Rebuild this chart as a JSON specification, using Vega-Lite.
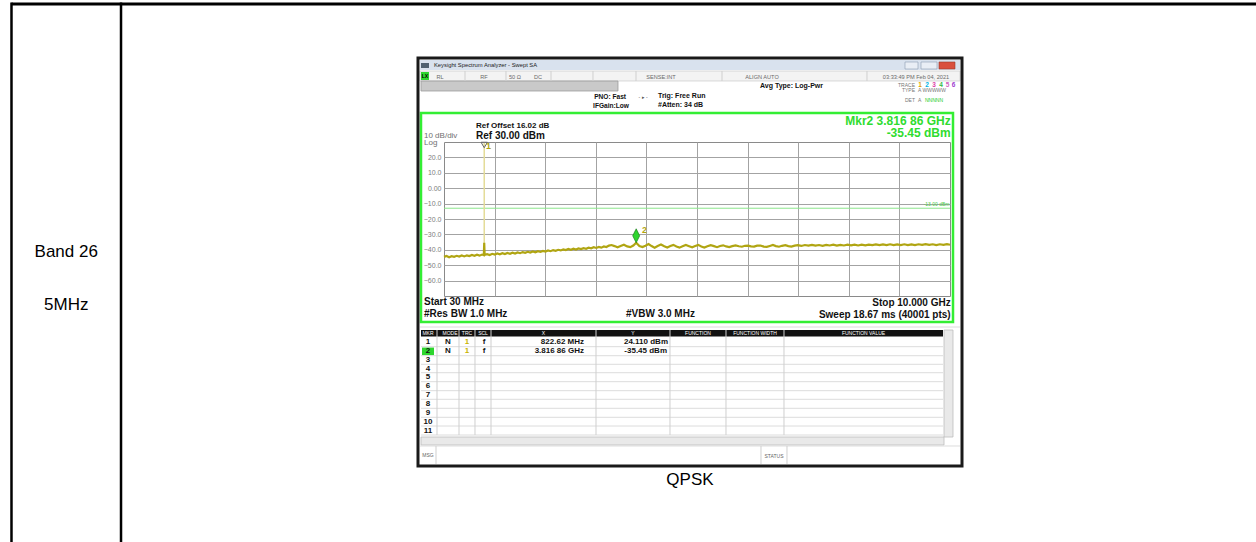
{
  "$schema": "https://vega.github.io/schema/vega-lite/v6.json",
  "width": 506,
  "height": 154,
  "autosize": {"type": "none"},
  "padding": {"left": 444, "top": 142, "right": 306, "bottom": 246},
  "background": "#ffffff",
  "config": {"view": {"stroke": "#8a8a8a", "strokeWidth": 1}, "font": "Liberation Sans", "text": {"font": "Liberation Sans"}},
  "encoding": {
    "x": {"field": "f", "type": "quantitative", "scale": {"domain": [30, 10000], "nice": false, "zero": false},
      "axis": {"title": null, "values": [1027, 2024, 3021, 4018, 5015, 6012, 7009, 8006, 9003], "labels": false, "ticks": false, "domain": false, "grid": true, "gridColor": "#a3a3a3", "gridWidth": 1}},
    "y": {"field": "d", "type": "quantitative", "scale": {"domain": [-70, 30], "nice": false, "zero": false},
      "axis": {"title": null, "values": [-60, -50, -40, -30, -20, -10, 0, 10, 20], "labelExpr": "datum.value == 0 ? '0.00' : format(datum.value, '.1f')", "ticks": false, "domain": false, "grid": true, "gridColor": "#a3a3a3", "gridWidth": 1, "labelFontSize": 7, "labelColor": "#7d7d7d", "labelPadding": 3, "labelFont": "Liberation Sans"}}
  },
  "datasets": {
    "pageH": [{"f": -8492, "f2": 16200, "d": 119.61}],
    "pageV": [{"f": -8492, "d": 120.6, "d2": -245}, {"f": -6334, "d": 120.6, "d2": -245}],
    "pageText": [{"f": -7413, "d": -41.23, "t": "Band 26"}, {"f": -7413, "d": -75.84, "t": "5MHz"}, {"f": 4877, "d": -189.48, "t": "QPSK"}],
    "frame": [{"f": -482.3, "f2": 10236.5, "d": 84.55, "d2": -180.39}],
    "titleBar": [{"f": -443, "f2": 10197, "d": 83.25, "d2": 76.75}],
    "statusBar": [{"f": -443, "f2": 10197, "d": 76.1, "d2": 69.61}],
    "grayBar": [{"f": -423.2, "f2": 3458.4, "d": 69.61, "d2": 63.12}],
    "winBtn": [{"f": 9113.4, "f2": 9369.5, "d": 81.95, "d2": 77.4}, {"f": 9428.6, "f2": 9743.9, "d": 81.95, "d2": 77.4}],
    "closeBtn": [{"f": 9783.3, "f2": 10098.5, "d": 81.95, "d2": 77.4}],
    "titleIcon": [{"f": -423.2, "f2": -265.6, "d": 81.3, "d2": 78.05}],
    "greenFill": [{"f": -423.2, "f2": -265.6, "d": 75.45, "d2": 70.26}, {"f": -403.5, "f2": -167.0, "d": -103.44, "d2": -108.44}],
    "panel": [{"f": -423.2, "f2": 10059.1, "d": 48.83, "d2": -86.88}],
    "tblHead": [{"f": -423.2, "f2": 9862.1, "d": -92.08, "d2": -96.3}],
    "scroll": [{"f": 9881.8, "f2": 10059.1, "d": -92.08, "d2": -161.56}, {"f": -423.2, "f2": 9881.8, "d": -161.56, "d2": -166.75}],
    "hLines": [
      {"f": -423.2, "f2": 9862.1, "d": -102.92}, {"f": -423.2, "f2": 9862.1, "d": -108.77}, {"f": -423.2, "f2": 9862.1, "d": -114.35},
      {"f": -423.2, "f2": 9862.1, "d": -119.81}, {"f": -423.2, "f2": 9862.1, "d": -125.65}, {"f": -423.2, "f2": 9862.1, "d": -131.49},
      {"f": -423.2, "f2": 9862.1, "d": -137.08}, {"f": -423.2, "f2": 9862.1, "d": -142.92}, {"f": -423.2, "f2": 9862.1, "d": -148.77},
      {"f": -423.2, "f2": 9862.1, "d": -154.42}, {"f": -423.2, "f2": 9862.1, "d": -160.26},
      {"f": -443, "f2": 10197, "d": -90.13}, {"f": -443, "f2": 10197, "d": -167.4}
    ],
    "vLines": [
      {"f": -107.9, "d": -92.08, "d2": -160.26}, {"f": 325.6, "d": -92.08, "d2": -160.26}, {"f": 640.8, "d": -92.08, "d2": -160.26},
      {"f": 956.1, "d": -92.08, "d2": -160.26}, {"f": 3025.0, "d": -92.08, "d2": -160.26}, {"f": 4483.0, "d": -92.08, "d2": -160.26},
      {"f": 5586.4, "d": -92.08, "d2": -160.26}, {"f": 6729.2, "d": -92.08, "d2": -160.26},
      {"f": -127.6, "d": -167.4, "d2": -179.09}, {"f": 6276.0, "d": -167.4, "d2": -179.09}, {"f": 6788.3, "d": -167.4, "d2": -179.09},
      {"f": 443.8, "d": 76.1, "d2": 69.61}, {"f": 1251.6, "d": 76.1, "d2": 69.61}, {"f": 2138.3, "d": 76.1, "d2": 69.61},
      {"f": 2965.8, "d": 76.1, "d2": 69.61}, {"f": 3813.1, "d": 76.1, "d2": 69.61}, {"f": 5507.6, "d": 76.1, "d2": 69.61}, {"f": 8364.6, "d": 76.1, "d2": 69.61}
    ],
    "titleText": [{"f": -167, "d": 80.0, "t": "Keysight Spectrum Analyzer - Swept SA"}],
    "statusText": [
      {"f": -48.8, "d": 72.21, "t": "RL"}, {"f": 818.1, "d": 72.21, "t": "RF"}, {"f": 1428.9, "d": 72.21, "t": "50 Ω"},
      {"f": 1882.1, "d": 72.21, "t": "DC"}, {"f": 4305.7, "d": 72.21, "t": "SENSE:INT"}, {"f": 6295.7, "d": 72.21, "t": "ALIGN AUTO"},
      {"f": 9330, "d": 72.21, "t": "03:33:49 PM Feb 04, 2021"}
    ],
    "lxText": [{"f": -344.4, "d": 72.86, "t": "LX"}],
    "infoRight": [{"f": 3616.1, "d": 59.22, "t": "PNO: Fast"}, {"f": 3675.2, "d": 53.38, "t": "IFGain:Low"}],
    "infoLeft": [{"f": 4246.6, "d": 60.06, "t": "Trig: Free Run"}, {"f": 4246.6, "d": 54.22, "t": "#Atten: 34 dB"}, {"f": 6256.3, "d": 66.17, "t": "Avg Type: Log-Pwr"}],
    "arrow": [{"f": 3951, "d": 59.22, "t": "- ▸ -"}],
    "traceLbl": [{"f": 9310.4, "d": 67.21, "t": "TRACE"}, {"f": 9310.4, "d": 63.57, "t": "TYPE"}, {"f": 9310.4, "d": 57.08, "t": "DET"}],
    "traceNums": [{"f": 9409, "d": 67.21, "t": "1"}, {"f": 9547, "d": 67.21, "t": "2"}, {"f": 9685, "d": 67.21, "t": "3"}, {"f": 9823, "d": 67.21, "t": "4"}, {"f": 9951, "d": 67.21, "t": "5"}, {"f": 10069, "d": 67.21, "t": "6"}],
    "typeDet": [{"f": 9369.5, "d": 63.57, "t": "A WWWWW"}, {"f": 9369.5, "d": 57.08, "t": "A"}],
    "detN": [{"f": 9507, "d": 57.08, "t": "NNNNN"}],
    "refSmall": [{"f": 660.5, "d": 40.58, "t": "Ref Offset 16.02 dB"}],
    "refBig": [{"f": 660.5, "d": 34.09, "t": "Ref 30.00 dBm"}],
    "grayLeft": [{"f": -364.1, "d": 33.7, "t": "10 dB/div"}, {"f": -364.1, "d": 29.5, "t": "Log"}],
    "mkrText": [{"f": 10013, "d": 43.64, "t": "Mkr2 3.816 86 GHz"}, {"f": 10013, "d": 35.65, "t": "-35.45 dBm"}],
    "botLeft": [{"f": -364.1, "d": -73.7, "t": "Start 30 MHz"}, {"f": -364.1, "d": -81.88, "t": "#Res BW 1.0 MHz"}, {"f": 3616.1, "d": -81.88, "t": "#VBW 3.0 MHz"}],
    "botRight": [{"f": 10013, "d": -74.35, "t": "Stop 10.000 GHz"}, {"f": 10013, "d": -82.34, "t": "Sweep  18.67 ms (40001 pts)"}],
    "hdr": [
      {"f": -285.3, "d": -94.16, "t": "MKR"}, {"f": 148.2, "d": -94.16, "t": "MODE"}, {"f": 483.2, "d": -94.16, "t": "TRC"},
      {"f": 798.4, "d": -94.16, "t": "SCL"}, {"f": 1990.5, "d": -94.16, "t": "X"}, {"f": 3754, "d": -94.16, "t": "Y"},
      {"f": 5034.7, "d": -94.16, "t": "FUNCTION"}, {"f": 6157.8, "d": -94.16, "t": "FUNCTION WIDTH"}, {"f": 8295.7, "d": -94.16, "t": "FUNCTION VALUE"}
    ],
    "rowsBlack": [
      {"f": -285.3, "d": -99.74, "t": "1"}, {"f": -285.3, "d": -105.84, "t": "2"}, {"f": -285.3, "d": -111.56, "t": "3"},
      {"f": -285.3, "d": -117.08, "t": "4"}, {"f": -285.3, "d": -122.73, "t": "5"}, {"f": -285.3, "d": -128.57, "t": "6"},
      {"f": -285.3, "d": -134.29, "t": "7"}, {"f": -285.3, "d": -140.0, "t": "8"}, {"f": -285.3, "d": -145.84, "t": "9"},
      {"f": -285.3, "d": -151.62, "t": "10"}, {"f": -285.3, "d": -157.34, "t": "11"},
      {"f": 108.8, "d": -99.74, "t": "N"}, {"f": 108.8, "d": -105.84, "t": "N"},
      {"f": 818.1, "d": -99.74, "t": "f"}, {"f": 818.1, "d": -105.84, "t": "f"}
    ],
    "rowsOlive": [{"f": 483.2, "d": -99.74, "t": "1"}, {"f": 483.2, "d": -105.84, "t": "1"}],
    "vals": [
      {"f": 2788.5, "d": -99.74, "t": "822.62 MHz"}, {"f": 4443.6, "d": -99.74, "t": "24.110 dBm"},
      {"f": 2788.5, "d": -105.84, "t": "3.816 86 GHz"}, {"f": 4423.9, "d": -105.84, "t": "-35.45 dBm"}
    ],
    "msgText": [{"f": -285.3, "d": -173.25, "t": "MSG"}, {"f": 6532, "d": -173.9, "t": "STATUS"}],
    "limitLine": [{"f": 30, "f2": 10000, "d": -13}],
    "limitText": [{"f": 9990, "d": -13, "t": "-13.00 dBm"}],
    "spike": [{"f": 822.62, "d": -36, "d2": 29.5}],
    "mk1": [{"f": 822.62, "d": 28.05}],
    "mk2": [{"f": 3816.86, "d": -35.45}],
    "mkLbl": [{"f": 857.6, "d": 27.1, "t": "1"}, {"f": 3931.4, "d": -26.82, "t": "2"}],
    "trace": [
      {"f": 30, "d": -44.6}, {"f": 80, "d": -44.0}, {"f": 130, "d": -44.8}, {"f": 180, "d": -44.1}, {"f": 230, "d": -44.6},
      {"f": 280, "d": -43.9}, {"f": 330, "d": -44.4}, {"f": 380, "d": -43.7}, {"f": 430, "d": -44.3}, {"f": 480, "d": -43.6},
      {"f": 530, "d": -44.1}, {"f": 580, "d": -43.4}, {"f": 630, "d": -43.9}, {"f": 680, "d": -43.2}, {"f": 730, "d": -43.8},
      {"f": 780, "d": -43.1}, {"f": 815, "d": -43.5}, {"f": 822.62, "d": -35.5}, {"f": 830, "d": -43.3}, {"f": 880, "d": -42.8},
      {"f": 930, "d": -43.4}, {"f": 980, "d": -42.6}, {"f": 1030, "d": -43.1}, {"f": 1080, "d": -42.4}, {"f": 1130, "d": -42.9},
      {"f": 1180, "d": -42.2}, {"f": 1230, "d": -42.8}, {"f": 1280, "d": -42.1}, {"f": 1330, "d": -42.6}, {"f": 1380, "d": -41.9},
      {"f": 1430, "d": -42.4}, {"f": 1480, "d": -41.7}, {"f": 1530, "d": -42.2}, {"f": 1580, "d": -41.5}, {"f": 1630, "d": -42.0},
      {"f": 1680, "d": -41.3}, {"f": 1730, "d": -41.8}, {"f": 1780, "d": -41.1}, {"f": 1830, "d": -41.6}, {"f": 1880, "d": -40.9},
      {"f": 1930, "d": -41.4}, {"f": 1980, "d": -40.7}, {"f": 2030, "d": -41.1}, {"f": 2080, "d": -40.4}, {"f": 2130, "d": -40.9},
      {"f": 2180, "d": -40.2}, {"f": 2230, "d": -40.7}, {"f": 2280, "d": -40.0}, {"f": 2330, "d": -40.4}, {"f": 2380, "d": -39.8},
      {"f": 2430, "d": -40.2}, {"f": 2480, "d": -39.5}, {"f": 2530, "d": -40.0}, {"f": 2580, "d": -39.3}, {"f": 2630, "d": -39.8},
      {"f": 2680, "d": -39.1}, {"f": 2730, "d": -39.5}, {"f": 2780, "d": -38.9}, {"f": 2830, "d": -39.3}, {"f": 2880, "d": -38.6},
      {"f": 2930, "d": -39.0}, {"f": 2980, "d": -38.3}, {"f": 3030, "d": -38.8}, {"f": 3080, "d": -38.1}, {"f": 3130, "d": -38.6},
      {"f": 3180, "d": -37.8}, {"f": 3230, "d": -38.2}, {"f": 3280, "d": -37.3}, {"f": 3330, "d": -36.9}, {"f": 3390, "d": -37.6},
      {"f": 3450, "d": -38.4}, {"f": 3510, "d": -37.5}, {"f": 3575, "d": -36.7}, {"f": 3640, "d": -37.8}, {"f": 3700, "d": -38.3},
      {"f": 3760, "d": -37.2}, {"f": 3816.86, "d": -35.45}, {"f": 3880, "d": -37.5}, {"f": 3940, "d": -38.2}, {"f": 4000, "d": -37.3},
      {"f": 4060, "d": -36.3}, {"f": 4120, "d": -37.6}, {"f": 4180, "d": -38.6}, {"f": 4240, "d": -37.5}, {"f": 4305, "d": -36.6},
      {"f": 4370, "d": -37.7}, {"f": 4430, "d": -38.5}, {"f": 4490, "d": -37.6}, {"f": 4550, "d": -36.8}, {"f": 4610, "d": -37.8},
      {"f": 4670, "d": -38.6}, {"f": 4730, "d": -37.7}, {"f": 4795, "d": -36.9}, {"f": 4860, "d": -37.7}, {"f": 4920, "d": -38.4},
      {"f": 4980, "d": -37.6}, {"f": 5040, "d": -36.8}, {"f": 5100, "d": -37.8}, {"f": 5160, "d": -38.5}, {"f": 5220, "d": -37.7},
      {"f": 5285, "d": -37.0}, {"f": 5350, "d": -37.6}, {"f": 5410, "d": -38.3}, {"f": 5470, "d": -37.5}, {"f": 5530, "d": -37.1},
      {"f": 5590, "d": -37.8}, {"f": 5650, "d": -38.2}, {"f": 5710, "d": -37.6}, {"f": 5775, "d": -37.2}, {"f": 5840, "d": -37.7},
      {"f": 5900, "d": -38.0}, {"f": 5960, "d": -37.4}, {"f": 6020, "d": -37.3}, {"f": 6080, "d": -37.8}, {"f": 6140, "d": -37.9},
      {"f": 6200, "d": -37.3}, {"f": 6265, "d": -37.2}, {"f": 6330, "d": -37.9}, {"f": 6390, "d": -38.1}, {"f": 6450, "d": -37.5},
      {"f": 6510, "d": -36.9}, {"f": 6570, "d": -37.6}, {"f": 6630, "d": -38.0}, {"f": 6690, "d": -37.4}, {"f": 6755, "d": -37.0},
      {"f": 6815, "d": -37.6}, {"f": 6875, "d": -37.9}, {"f": 6940, "d": -37.3}, {"f": 7000, "d": -37.0}, {"f": 7070, "d": -37.5},
      {"f": 7140, "d": -36.9}, {"f": 7210, "d": -37.3}, {"f": 7280, "d": -36.8}, {"f": 7350, "d": -37.3}, {"f": 7420, "d": -36.9},
      {"f": 7490, "d": -37.4}, {"f": 7560, "d": -36.8}, {"f": 7630, "d": -37.2}, {"f": 7700, "d": -36.7}, {"f": 7770, "d": -37.3},
      {"f": 7840, "d": -36.8}, {"f": 7910, "d": -37.2}, {"f": 7980, "d": -36.7}, {"f": 8050, "d": -37.1}, {"f": 8120, "d": -36.6},
      {"f": 8190, "d": -37.2}, {"f": 8260, "d": -36.7}, {"f": 8330, "d": -37.1}, {"f": 8400, "d": -36.6}, {"f": 8470, "d": -37.0},
      {"f": 8540, "d": -36.5}, {"f": 8610, "d": -37.0}, {"f": 8680, "d": -36.5}, {"f": 8750, "d": -36.9}, {"f": 8820, "d": -36.4},
      {"f": 8890, "d": -37.0}, {"f": 8960, "d": -36.5}, {"f": 9030, "d": -36.9}, {"f": 9100, "d": -36.4}, {"f": 9170, "d": -36.9},
      {"f": 9240, "d": -36.5}, {"f": 9310, "d": -36.9}, {"f": 9380, "d": -36.4}, {"f": 9450, "d": -36.8}, {"f": 9520, "d": -36.3},
      {"f": 9590, "d": -36.8}, {"f": 9660, "d": -36.4}, {"f": 9730, "d": -36.9}, {"f": 9800, "d": -36.4}, {"f": 9870, "d": -36.8},
      {"f": 9940, "d": -36.3}, {"f": 10000, "d": -36.7}
    ]
  },
  "layer": [
    {"data": {"name": "pageH"}, "mark": {"type": "rule", "color": "#000000", "strokeWidth": 3}, "encoding": {"x2": {"field": "f2"}}},
    {"data": {"name": "pageV"}, "mark": {"type": "rule", "color": "#000000", "strokeWidth": 2.5}, "encoding": {"y2": {"field": "d2"}}},
    {"data": {"name": "pageText"}, "mark": {"type": "text", "fontSize": 17, "align": "center", "baseline": "middle", "color": "#000000"}, "encoding": {"text": {"field": "t"}}},
    {"data": {"name": "titleBar"}, "mark": {"type": "rect", "color": "#d9e2ee"}, "encoding": {"x2": {"field": "f2"}, "y2": {"field": "d2"}}},
    {"data": {"name": "statusBar"}, "mark": {"type": "rect", "color": "#f3f3f3", "stroke": "#c4c4c4", "strokeWidth": 0.6}, "encoding": {"x2": {"field": "f2"}, "y2": {"field": "d2"}}},
    {"data": {"name": "grayBar"}, "mark": {"type": "rect", "color": "#c9c9c9", "stroke": "#9a9a9a", "strokeWidth": 0.8}, "encoding": {"x2": {"field": "f2"}, "y2": {"field": "d2"}}},
    {"data": {"name": "winBtn"}, "mark": {"type": "rect", "color": "#e9eef5", "stroke": "#8b9bb0", "strokeWidth": 0.6}, "encoding": {"x2": {"field": "f2"}, "y2": {"field": "d2"}}},
    {"data": {"name": "closeBtn"}, "mark": {"type": "rect", "color": "#d9503f", "stroke": "#9a3a2e", "strokeWidth": 0.6}, "encoding": {"x2": {"field": "f2"}, "y2": {"field": "d2"}}},
    {"data": {"name": "titleIcon"}, "mark": {"type": "rect", "color": "#4f6070"}, "encoding": {"x2": {"field": "f2"}, "y2": {"field": "d2"}}},
    {"data": {"name": "greenFill"}, "mark": {"type": "rect", "color": "#2ed62e"}, "encoding": {"x2": {"field": "f2"}, "y2": {"field": "d2"}}},
    {"data": {"name": "tblHead"}, "mark": {"type": "rect", "color": "#111111"}, "encoding": {"x2": {"field": "f2"}, "y2": {"field": "d2"}}},
    {"data": {"name": "scroll"}, "mark": {"type": "rect", "color": "#e9e9e9", "stroke": "#bcbcbc", "strokeWidth": 0.8}, "encoding": {"x2": {"field": "f2"}, "y2": {"field": "d2"}}},
    {"data": {"name": "hLines"}, "mark": {"type": "rule", "color": "#dcdcdc", "strokeWidth": 1}, "encoding": {"x2": {"field": "f2"}}},
    {"data": {"name": "vLines"}, "mark": {"type": "rule", "color": "#cfcfcf", "strokeWidth": 1}, "encoding": {"y2": {"field": "d2"}}},
    {"data": {"name": "panel"}, "mark": {"type": "rect", "filled": false, "color": "#33ee33", "strokeWidth": 2.5}, "encoding": {"x2": {"field": "f2"}, "y2": {"field": "d2"}}},
    {"data": {"name": "frame"}, "mark": {"type": "rect", "filled": false, "color": "#1a1a1a", "strokeWidth": 3}, "encoding": {"x2": {"field": "f2"}, "y2": {"field": "d2"}}},
    {"data": {"name": "titleText"}, "mark": {"type": "text", "fontSize": 5.8, "align": "left", "baseline": "middle", "color": "#1a1a1a"}, "encoding": {"text": {"field": "t"}}},
    {"data": {"name": "statusText"}, "mark": {"type": "text", "fontSize": 5.6, "align": "center", "baseline": "middle", "color": "#6a6a6a"}, "encoding": {"text": {"field": "t"}}},
    {"data": {"name": "lxText"}, "mark": {"type": "text", "fontSize": 5, "fontWeight": "bold", "align": "center", "baseline": "middle", "color": "#000000"}, "encoding": {"text": {"field": "t"}}},
    {"data": {"name": "infoRight"}, "mark": {"type": "text", "fontSize": 6.6, "fontWeight": "bold", "align": "right", "baseline": "middle", "color": "#111111"}, "encoding": {"text": {"field": "t"}}},
    {"data": {"name": "infoLeft"}, "mark": {"type": "text", "fontSize": 7, "fontWeight": "bold", "align": "left", "baseline": "middle", "color": "#111111"}, "encoding": {"text": {"field": "t"}}},
    {"data": {"name": "arrow"}, "mark": {"type": "text", "fontSize": 5, "align": "center", "baseline": "middle", "color": "#555555"}, "encoding": {"text": {"field": "t"}}},
    {"data": {"name": "traceLbl"}, "mark": {"type": "text", "fontSize": 5, "align": "right", "baseline": "middle", "color": "#777777"}, "encoding": {"text": {"field": "t"}}},
    {"data": {"name": "traceNums"}, "mark": {"type": "text", "fontSize": 6.5, "fontWeight": "bold", "align": "center", "baseline": "middle"},
      "encoding": {"text": {"field": "t"}, "color": {"field": "t", "type": "nominal", "legend": null, "scale": {"domain": ["1", "2", "3", "4", "5", "6"], "range": ["#e0a000", "#00b4e6", "#e040a8", "#33bb44", "#d060c0", "#a040d0"]}}}},
    {"data": {"name": "typeDet"}, "mark": {"type": "text", "fontSize": 5, "align": "left", "baseline": "middle", "color": "#777777"}, "encoding": {"text": {"field": "t"}}},
    {"data": {"name": "detN"}, "mark": {"type": "text", "fontSize": 5, "align": "left", "baseline": "middle", "color": "#22cc22"}, "encoding": {"text": {"field": "t"}}},
    {"data": {"name": "refSmall"}, "mark": {"type": "text", "fontSize": 8, "fontWeight": "bold", "align": "left", "baseline": "middle", "color": "#111111"}, "encoding": {"text": {"field": "t"}}},
    {"data": {"name": "refBig"}, "mark": {"type": "text", "fontSize": 10, "fontWeight": "bold", "align": "left", "baseline": "middle", "color": "#111111"}, "encoding": {"text": {"field": "t"}}},
    {"data": {"name": "grayLeft"}, "mark": {"type": "text", "fontSize": 8, "align": "left", "baseline": "middle", "color": "#707070"}, "encoding": {"text": {"field": "t"}}},
    {"data": {"name": "mkrText"}, "mark": {"type": "text", "fontSize": 12, "fontWeight": "bold", "align": "right", "baseline": "middle", "color": "#2fdc2f"}, "encoding": {"text": {"field": "t"}}},
    {"data": {"name": "botLeft"}, "mark": {"type": "text", "fontSize": 10, "fontWeight": "bold", "align": "left", "baseline": "middle", "color": "#111111"}, "encoding": {"text": {"field": "t"}}},
    {"data": {"name": "botRight"}, "mark": {"type": "text", "fontSize": 10, "fontWeight": "bold", "align": "right", "baseline": "middle", "color": "#111111"}, "encoding": {"text": {"field": "t"}}},
    {"data": {"name": "hdr"}, "mark": {"type": "text", "fontSize": 5, "align": "center", "baseline": "middle", "color": "#ffffff"}, "encoding": {"text": {"field": "t"}}},
    {"data": {"name": "rowsBlack"}, "mark": {"type": "text", "fontSize": 8, "fontWeight": "bold", "align": "center", "baseline": "middle", "color": "#111111"}, "encoding": {"text": {"field": "t"}}},
    {"data": {"name": "rowsOlive"}, "mark": {"type": "text", "fontSize": 8, "fontWeight": "bold", "align": "center", "baseline": "middle", "color": "#c8b400"}, "encoding": {"text": {"field": "t"}}},
    {"data": {"name": "vals"}, "mark": {"type": "text", "fontSize": 8, "fontWeight": "bold", "align": "right", "baseline": "middle", "color": "#111111"}, "encoding": {"text": {"field": "t"}}},
    {"data": {"name": "msgText"}, "mark": {"type": "text", "fontSize": 5, "align": "center", "baseline": "middle", "color": "#666666"}, "encoding": {"text": {"field": "t"}}},
    {"data": {"name": "limitLine"}, "mark": {"type": "rule", "color": "#8be68b", "strokeWidth": 1}, "encoding": {"x2": {"field": "f2"}}},
    {"data": {"name": "limitText"}, "mark": {"type": "text", "fontSize": 5, "align": "right", "baseline": "bottom", "dy": -1, "color": "#44cc44"}, "encoding": {"text": {"field": "t"}}},
    {"data": {"name": "spike"}, "mark": {"type": "rule", "color": "#e4dc98", "strokeWidth": 1.5}, "encoding": {"y2": {"field": "d2"}}},
    {"data": {"name": "trace"}, "mark": {"type": "line", "color": "#b0a512", "strokeWidth": 2.2}, "encoding": {}},
    {"data": {"name": "mk1"}, "mark": {"type": "point", "shape": "triangle-down", "filled": false, "color": "#6a6a6a", "size": 40, "strokeWidth": 1, "opacity": 1}, "encoding": {}},
    {"data": {"name": "mk2"}, "mark": {"type": "point", "shape": "M0,0L0.5,-1L0,-2L-0.5,-1Z", "filled": true, "color": "#2fd52f", "stroke": "#0f6f0f", "strokeWidth": 0.6, "size": 196, "opacity": 1}, "encoding": {}},
    {"data": {"name": "mkLbl"}, "mark": {"type": "text", "fontSize": 9, "fontWeight": "bold", "align": "left", "baseline": "middle", "color": "#b0a512"}, "encoding": {"text": {"field": "t"}}}
  ]
}
